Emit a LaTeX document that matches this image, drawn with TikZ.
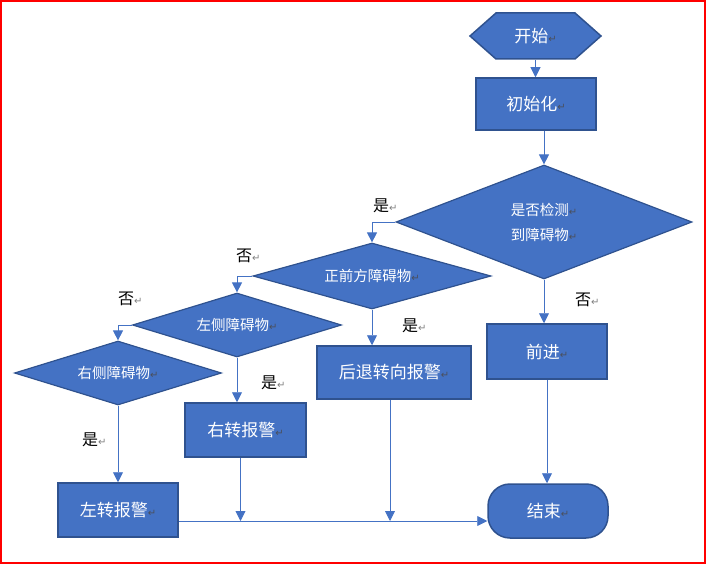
\documentclass[tikz,border=0pt]{standalone}
\usepackage{fontspec}
\setmainfont{Noto Sans CJK SC}
\newfontfamily\dvs{DejaVu Sans}
\usetikzlibrary{shapes.geometric,arrows.meta}
\definecolor{ofblue}{HTML}{4472C4}
\definecolor{ofedge}{HTML}{2F528F}
\definecolor{mkdark}{HTML}{4A4F5C}
\newcommand\pmk{{\dvs\fontsize{10pt}{10pt}\selectfont\textcolor{gray}{↵}}}
\newcommand\pmb{{\dvs\fontsize{10pt}{10pt}\selectfont\textcolor{mkdark}{↵}}}

\begin{document}
\begin{tikzpicture}[x=1pt,y=-1pt,
    blk/.style={draw=ofedge, line width=1.5pt, fill=ofblue, text=white, font=\fontsize{17pt}{20pt}\selectfont, inner sep=0pt},
    dec/.style={diamond, draw=ofedge, line width=1.2pt, fill=ofblue, text=white, font=\fontsize{14.5pt}{25pt}\selectfont, inner sep=0pt, align=center},
    lab/.style={anchor=west, inner sep=0pt, font=\fontsize{16pt}{16pt}\selectfont},
    arr/.style={draw=ofblue, line width=0.9pt, -{Triangle[width=10pt,length=10pt]}}]
    \useasboundingbox (0,0) rectangle (707,564);
    \draw[red, line width=2pt] (1,1) rectangle (705,563);
    % start / init
    \draw[draw=ofedge, line width=1.5pt, fill=ofblue] (470,36) -- (496,13) -- (575,13) -- (601,36) -- (575,59) -- (496,59) -- cycle;
    \node[blk, draw=none, fill=none, minimum width=131pt, minimum height=46pt] (start) at (535.5,36) {开始\pmb};
    \node[blk, minimum width=120pt, minimum height=52pt] (init) at (536,104) {初始化\pmb};
    % decisions
    \node[dec, minimum width=296pt, minimum height=114pt, aspect=2.6] (d1) at (544,222) {是否检测\pmb\\到障碍物\pmb};
    \node[dec, minimum width=238pt, minimum height=66pt, aspect=3.6] (d2) at (372,276) {正前方障碍物\pmb};
    \node[dec, minimum width=209pt, minimum height=64pt, aspect=3.3] (d3) at (237,325) {左侧障碍物\pmb};
    \node[dec, minimum width=207pt, minimum height=64pt, aspect=3.2] (d4) at (118,373) {右侧障碍物\pmb};
    % actions
    \node[blk, minimum width=120pt, minimum height=55pt] (fwd) at (547,351.5) {前进\pmb};
    \node[blk, minimum width=154pt, minimum height=53pt] (back) at (394,372.5) {后退转向报警\pmb};
    \node[blk, minimum width=121pt, minimum height=54pt] (rt) at (245.5,430) {右转报警\pmb};
    \node[blk, minimum width=120pt, minimum height=54pt] (lt) at (118,510) {左转报警\pmb};
    \node[blk, rounded corners=22pt, minimum width=120pt, minimum height=54pt] (end) at (548,511) {结束\pmb};
    % connectors
    \draw[arr] (start.south) -- (start.south |- init.north);
    \draw[arr] (d1.north |- init.south) -- (d1.north);
    \draw[arr] (d1.west) -| (d2.north);
    \draw[arr] (d1.south) -- (d1.south |- fwd.north);
    \draw[arr] (d2.west) -| (d3.north);
    \draw[arr] (d2.south) -- (d2.south |- back.north);
    \draw[arr] (d3.west) -| (d4.north);
    \draw[arr] (d3.south) -- (d3.south |- rt.north);
    \draw[arr] (d4.south) -- (lt.north);
    \draw[arr] (fwd.south) -- (fwd.south |- end.north);
    \coordinate (bus) at (178,521);
    \draw[arr] (lt.east |- bus) -- (end.west |- bus);
    \draw[arr] ([xshift=-5pt]rt.south) -- ([xshift=-5pt]rt.south |- bus);
    \draw[arr] ([xshift=-4pt]back.south) -- ([xshift=-4pt]back.south |- bus);
    % yes / no
    \node[lab] (y1) at (373,206) {是\pmk};
    \node[lab] (n1) at (575,300) {否\pmk};
    \node[lab] (n2) at (236,256) {否\pmk};
    \node[lab] (n3) at (118,299) {否\pmk};
    \node[lab] (y2) at (402,326) {是\pmk};
    \node[lab] (y3) at (261,383) {是\pmk};
    \node[lab] (y4) at (82,440) {是\pmk};
\end{tikzpicture}
\end{document}
